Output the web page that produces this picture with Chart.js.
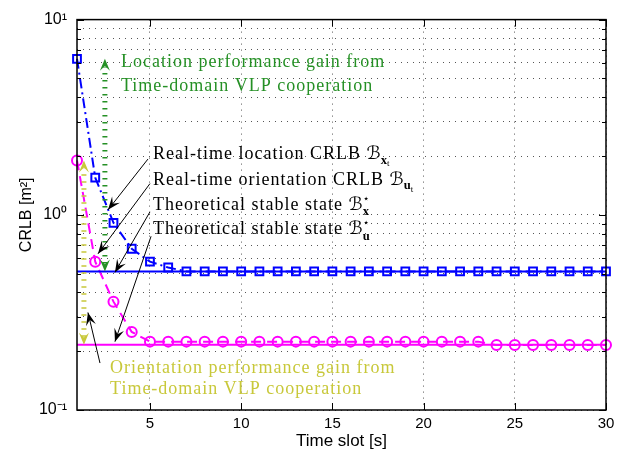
<!DOCTYPE html>
<html>
<head>
  <title>CRLB vs time slot</title>
  <script src="https://cdn.jsdelivr.net/npm/chart.js"></script>
  <style>
    body { margin: 0; background: #fff; }
    #wrap { width: 629px; height: 457px; }
  </style>
</head>
<body>
  <div id="wrap"><canvas id="crlbChart" width="629" height="457"></canvas></div>
  <script>
    // values
    const slots = [1, 2, 3, 4, 5, 6, 7, 8, 9, 10, 11, 12, 13, 14, 15,
                   16, 17, 18, 19, 20, 21, 22, 23, 24, 25, 26, 27, 28, 29, 30];
    const locCrlb = [6.3, 1.55, 0.91, 0.67, 0.575, 0.537, 0.513, 0.513, 0.513, 0.513,
                     0.513, 0.513, 0.513, 0.513, 0.513, 0.513, 0.513, 0.513, 0.513, 0.513,
                     0.513, 0.513, 0.513, 0.513, 0.513, 0.513, 0.513, 0.513, 0.513, 0.513];
    const oriCrlb = [1.9, 0.575, 0.359, 0.251, 0.224, 0.224, 0.224, 0.224, 0.224, 0.224,
                     0.224, 0.224, 0.224, 0.224, 0.224, 0.224, 0.224, 0.224, 0.224, 0.224,
                     0.224, 0.224, 0.224, 0.215, 0.215, 0.215, 0.215, 0.215, 0.215, 0.215];
    const locStable = 0.513;
    const oriStable = 0.216;
    const xTicks = [5, 10, 15, 20, 25, 30];
    const yGrid = [0.1, 0.2, 0.3, 0.4, 0.5, 0.6, 0.7, 0.8, 0.9,
                   1, 2, 3, 4, 5, 6, 7, 8, 9, 10];
    const yDecades = [0.1, 1, 10];
    const yTickLabels = ['10\u207B\u00B9', '10\u2070', '10\u00B9'];

    const sans = "'Liberation Sans', Arial, sans-serif";
    const serif = "'Liberation Serif', 'DejaVu Serif', 'DejaVu Sans', serif";
    const green = '#259025';
    const olive = '#c8c83a';

    // annotation anchors, in data units
    const gainArrows = [
      { x: 2.53, from: locStable, to: locCrlb[0], color: green },
      { x: 1.38, from: oriStable, to: oriCrlb[0], color: olive }
    ];
    const pointers = [
      [4.89, 1.93, 2.70, 1.06],
      [5.0, 1.445, 2.15, 0.631],
      [5.0, 1.035, 3.08, 0.507],
      [5.06, 0.776, 3.08, 0.224],
      [2.26, 0.174, 1.6, 0.316]
    ];
    const labels = [
      { x: 5.17, y: 2.07, parts: [{ t: 'Real-time location CRLB ' }, { t: '\u212C', sp: 0 }, { t: 'x', s: 0.7, dy: 0.25, bold: true, sp: 0 }, { t: 't', s: 0.5, dy: 0.4, sp: 0 }] },
      { x: 5.17, y: 1.53, parts: [{ t: 'Real-time orientation CRLB ' }, { t: '\u212C', sp: 0 }, { t: 'u', s: 0.7, dy: 0.25, bold: true, sp: 0 }, { t: 't', s: 0.5, dy: 0.4, sp: 0 }] },
      { x: 5.17, y: 1.135, parts: [{ t: 'Theoretical stable state ' }, { t: '\u212C', sp: 0 }, { t: '\u22C6', s: 0.6, dy: -0.45, stack: true, sp: 0 }, { t: 'x', s: 0.7, dy: 0.3, bold: true, sp: 0 }] },
      { x: 5.17, y: 0.851, parts: [{ t: 'Theoretical stable state ' }, { t: '\u212C', sp: 0 }, { t: '\u22C6', s: 0.6, dy: -0.45, stack: true, sp: 0 }, { t: 'u', s: 0.7, dy: 0.3, bold: true, sp: 0 }] }
    ];
    const gainTexts = [
      { x: 3.41, y: 6.1, text: 'Location performance gain from', color: green },
      { x: 3.41, y: 4.62, text: 'Time-domain VLP cooperation', color: green },
      { x: 2.81, y: 0.166, text: 'Orientation performance gain from', color: olive },
      { x: 2.81, y: 0.129, text: 'Time-domain VLP cooperation', color: olive }
    ];

    const textSize = 18;

    function arrowHead(ctx, x1, y1, x2, y2, len, wid, color) {
      const a = Math.atan2(y2 - y1, x2 - x1);
      const c = Math.cos(a), s = Math.sin(a);
      ctx.save();
      ctx.fillStyle = color;
      ctx.beginPath();
      ctx.moveTo(x2, y2);
      ctx.lineTo(x2 - len * c + wid / 2 * s, y2 - len * s - wid / 2 * c);
      ctx.lineTo(x2 - len * 0.6 * c, y2 - len * 0.6 * s);
      ctx.lineTo(x2 - len * c - wid / 2 * s, y2 - len * s + wid / 2 * c);
      ctx.closePath();
      ctx.fill();
      ctx.restore();
    }

    function drawRich(ctx, x, y, parts, color) {
      let cx = x;
      ctx.fillStyle = color;
      ctx.textAlign = 'left';
      ctx.textBaseline = 'alphabetic';
      parts.forEach(p => {
        const s = textSize * (p.s || 1);
        ctx.font = (p.bold ? 'bold ' : '') + s + 'px ' + serif;
        ctx.letterSpacing = (p.sp === 0 ? 0 : 1) + 'px';
        ctx.fillText(p.t, cx, y + (p.dy || 0) * textSize);
        if (!p.stack) cx += ctx.measureText(p.t).width;
      });
      ctx.letterSpacing = '0px';
    }

    const decorPlugin = {
      id: 'decor',
      afterDatasetsDraw(chart) {
        const ctx = chart.ctx;
        const xs = chart.scales.x, ys = chart.scales.y;
        const a = chart.chartArea;
        const px = v => xs.getPixelForValue(v);
        const py = v => ys.getPixelForValue(v);

        // box and inward ticks
        ctx.save();
        ctx.strokeStyle = '#000';
        ctx.lineWidth = 1.5;
        ctx.strokeRect(a.left, a.top, a.right - a.left, a.bottom - a.top);
        ctx.lineWidth = 1;
        ctx.beginPath();
        yGrid.forEach(v => {
          const len = yDecades.includes(v) ? 7 : 4;
          const y = Math.round(py(v)) + 0.5;
          ctx.moveTo(a.left, y); ctx.lineTo(a.left + len, y);
          ctx.moveTo(a.right, y); ctx.lineTo(a.right - len, y);
        });
        xTicks.forEach(v => {
          const x = Math.round(px(v)) + 0.5;
          ctx.moveTo(x, a.bottom); ctx.lineTo(x, a.bottom - 7);
          ctx.moveTo(x, a.top); ctx.lineTo(x, a.top + 7);
        });
        ctx.stroke();
        ctx.restore();

        // gain arrows (thick dotted, head at both ends)
        gainArrows.forEach(g => {
          const x = px(g.x), y1 = py(g.from), y2 = py(g.to);
          ctx.save();
          ctx.strokeStyle = g.color;
          ctx.lineWidth = 5;
          ctx.setLineDash([1.5, 5.5]);
          ctx.beginPath();
          ctx.moveTo(x, y1 - 8);
          ctx.lineTo(x, y2 + 8);
          ctx.stroke();
          ctx.restore();
          arrowHead(ctx, x, y1 - 20, x, y2, 12, 10, g.color);
          arrowHead(ctx, x, y2 + 20, x, y1, 12, 10, g.color);
        });

        // black pointer arrows
        pointers.forEach(p => {
          const x1 = px(p[0]), y1 = py(p[1]), x2 = px(p[2]), y2 = py(p[3]);
          ctx.save();
          ctx.strokeStyle = '#000';
          ctx.lineWidth = 1;
          ctx.beginPath();
          ctx.moveTo(x1, y1);
          ctx.lineTo(x2, y2);
          ctx.stroke();
          ctx.restore();
          arrowHead(ctx, x1, y1, x2, y2, 13, 10, '#000');
        });

        // texts
        labels.forEach(l => {
          drawRich(ctx, px(l.x), py(l.y) + 0.33 * textSize, l.parts, '#000');
        });
        gainTexts.forEach(g => {
          drawRich(ctx, px(g.x), py(g.y) + 0.33 * textSize, [{ t: g.text }], g.color);
        });
      }
    };

    const toPoints = ys => slots.map((s, i) => ({ x: s, y: ys[i] }));

    new Chart(document.getElementById('crlbChart').getContext('2d'), {
      type: 'line',
      data: {
        datasets: [
          {
            data: [{ x: slots[0], y: locStable }, { x: slots[slots.length - 1], y: locStable }],
            borderColor: '#0000ff', borderWidth: 2, pointRadius: 0, clip: false
          },
          {
            data: [{ x: slots[0], y: oriStable }, { x: slots[slots.length - 1], y: oriStable }],
            borderColor: '#ff00ff', borderWidth: 2, pointRadius: 0, clip: false
          },
          {
            data: toPoints(locCrlb),
            borderColor: '#0000ff', borderWidth: 2, borderDash: [10, 4, 2, 4],
            pointStyle: 'rect', pointRadius: 5.5, pointBorderWidth: 2,
            pointBorderColor: '#0000ff', pointBackgroundColor: 'rgba(0,0,0,0)', clip: false
          },
          {
            data: toPoints(oriCrlb),
            borderColor: '#ff00ff', borderWidth: 2, borderDash: [10, 6],
            pointStyle: 'circle', pointRadius: 5, pointBorderWidth: 2,
            pointBorderColor: '#ff00ff', pointBackgroundColor: 'rgba(0,0,0,0)', clip: false
          }
        ]
      },
      options: {
        responsive: false,
        animation: false,
        layout: { padding: { top: 10, right: 23, left: 0, bottom: 0 } },
        plugins: { legend: { display: false }, tooltip: { enabled: false } },
        scales: {
          x: {
            type: 'linear', min: 1, max: 30,
            afterBuildTicks: s => { s.ticks = xTicks.map(v => ({ value: v })); },
            afterFit: s => { s.height = 47; },
            ticks: { color: '#000', font: { family: sans, size: 15 }, padding: 5, maxRotation: 0 },
            grid: { color: '#555', lineWidth: 1, drawTicks: false },
            border: { display: false, dash: [1, 5] },
            title: { display: true, text: 'Time slot [s]', color: '#000', font: { family: sans, size: 17 }, padding: { top: 0, bottom: 5 } }
          },
          y: {
            type: 'logarithmic', min: 0.1, max: 10,
            afterBuildTicks: s => { s.ticks = yGrid.map(v => ({ value: v })); },
            afterFit: s => { s.width = 77; },
            ticks: {
              color: '#000', font: { family: sans, size: 16 }, padding: 10, autoSkip: false,
              callback: v => { const i = yDecades.indexOf(v); return i >= 0 ? yTickLabels[i] : ''; }
            },
            grid: { color: '#555', lineWidth: 1, drawTicks: false },
            border: { display: false, dash: [1, 5] },
            title: { display: true, text: 'CRLB [m\u00B2]', color: '#000', font: { family: sans, size: 16 }, padding: { top: 17, bottom: 0 } }
          }
        }
      },
      plugins: [decorPlugin]
    });
  </script>
</body>
</html>
